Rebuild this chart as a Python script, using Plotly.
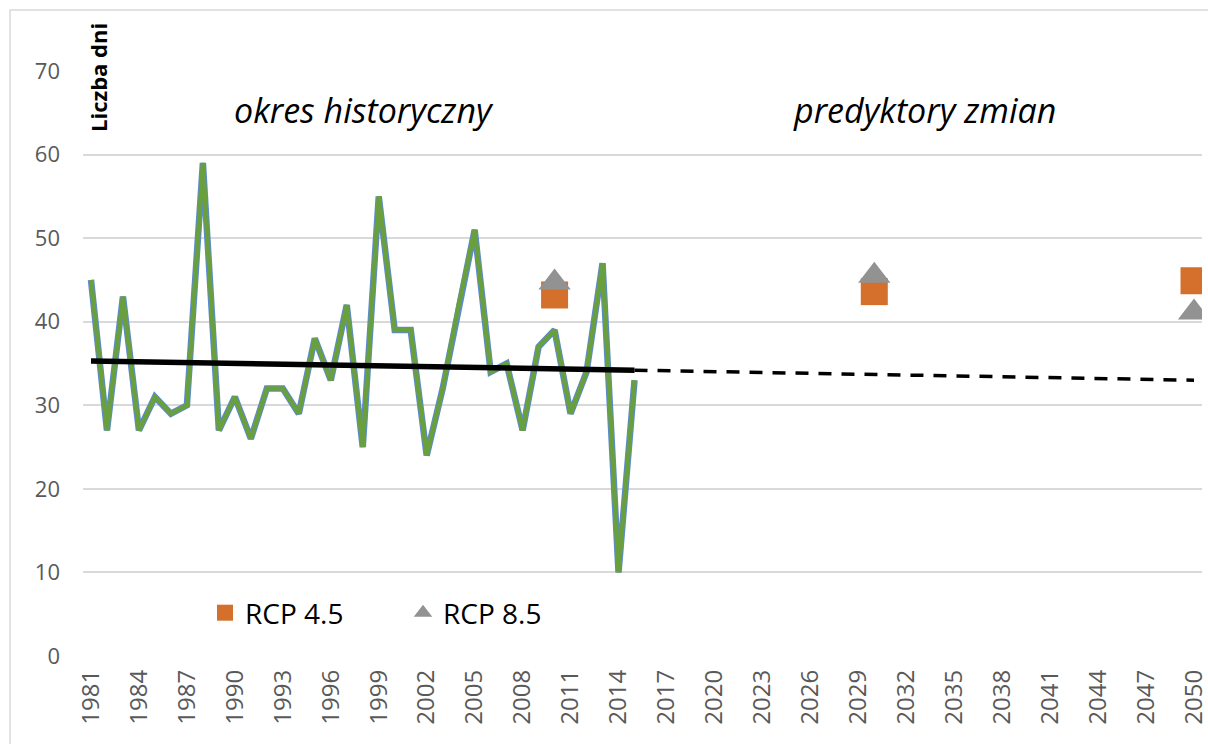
import plotly.graph_objects as go

# ---- data ----
years_hist = list(range(1981, 2016))
days_hist = [45, 27, 43, 27, 31, 29, 30, 59, 27, 31,
             26, 32, 32, 29, 38, 33, 42, 25, 55, 39,
             39, 24, 32, 42, 51, 34, 35, 27, 37, 39,
             29, 34, 47, 10, 33]

trend_hist_years = [1981, 2015]
trend_hist_vals = [35.3, 34.2]
trend_proj_years = [2015, 2050]
trend_proj_vals = [34.2, 33.0]

rcp_years = [2010, 2030, 2050]
rcp45 = [43.2, 43.6, 44.9]
rcp85 = [44.7, 45.5, 41.1]

tick_years = list(range(1981, 2051, 3))
tick_labels = [str(y) for y in tick_years]

FONT = "Open Sans"
GRAY_TXT = "#595959"

fig = go.Figure()

# blue underline of the historical series
fig.add_trace(go.Scatter(x=years_hist, y=days_hist, mode="lines",
                         line=dict(color="#5B8BD0", width=6.5),
                         showlegend=False, hoverinfo="skip"))
fig.add_trace(go.Scatter(x=years_hist, y=days_hist, mode="lines",
                         line=dict(color="#6A9F3E", width=4.5),
                         showlegend=False))
# trend
fig.add_trace(go.Scatter(x=trend_hist_years, y=trend_hist_vals, mode="lines",
                         line=dict(color="black", width=5.5),
                         showlegend=False))
fig.add_trace(go.Scatter(x=trend_proj_years, y=trend_proj_vals, mode="lines",
                         line=dict(color="black", width=3.5, dash="13px,10px"),
                         showlegend=False))
# scenarios
fig.add_trace(go.Scatter(x=rcp_years, y=rcp45, mode="markers", name="RCP 4.5",
                         marker=dict(symbol="square", size=27, color="#D4702C")))
fig.add_trace(go.Scatter(x=rcp_years, y=rcp85, mode="markers", name="RCP 8.5",
                         marker=dict(symbol="triangle-up", size=28, color="#929292")))

L, R, T, B = 83, 6, 71, 88
W, H = 1208, 744
pw = W - L - R
ph = H - T - B

def px_x(x):
    return (x - L) / pw

def px_y(y):
    return (H - B - y) / ph

fig.update_layout(
    width=W, height=H,
    margin=dict(l=L, r=R, t=T, b=B, pad=0, autoexpand=False),
    paper_bgcolor="white", plot_bgcolor="white",
    font=dict(family=FONT, color=GRAY_TXT),
    xaxis=dict(range=[1980.5, 2050.5], tickmode="array", tickvals=tick_years,
               ticktext=tick_labels, tickangle=-90, showgrid=False,
               zeroline=False, showline=False, ticks="", automargin=False,
               tickfont=dict(size=24, color=GRAY_TXT, family=FONT),
               ticklabelstandoff=8, ticklabeloverflow="allow"),
    yaxis=dict(range=[0, 70], dtick=10, tick0=0, showgrid=True,
               gridcolor="#D9D9D9", gridwidth=1.5, zeroline=False,
               showline=False, ticks="", automargin=False,
               tickfont=dict(size=22, color=GRAY_TXT, family=FONT),
               ticklabelstandoff=22),
    legend=dict(orientation="h", x=px_x(205), y=px_y(613),
                xanchor="left", yanchor="middle",
                font=dict(size=28, color="black", family=FONT),
                bgcolor="rgba(0,0,0,0)", entrywidth=153),
    showlegend=True,
)

fig.add_annotation(text="Liczba dni", textangle=-90, xref="paper", yref="paper",
                   x=px_x(98), y=px_y(78), xanchor="center", yanchor="middle",
                   showarrow=False,
                   font=dict(family=FONT, size=22, color="black", weight="bold"))
fig.add_annotation(text="<i>okres historyczny</i>", xref="paper", yref="paper",
                   x=px_x(364), y=px_y(110), xanchor="center", yanchor="middle",
                   showarrow=False, font=dict(family=FONT, size=34, color="black"))
fig.add_annotation(text="<i>predyktory zmian</i>", xref="paper", yref="paper",
                   x=px_x(924), y=px_y(110), xanchor="center", yanchor="middle",
                   showarrow=False, font=dict(family=FONT, size=34, color="black"))

# chart-area border (top and left visible)
fig.add_shape(type="rect", xref="paper", yref="paper",
              x0=px_x(10), x1=px_x(W + 20), y0=px_y(H + 20), y1=px_y(10),
              line=dict(color="#D9D9D9", width=1.5), fillcolor="rgba(0,0,0,0)",
              layer="below")

fig.write_html("out.html", config={"displayModeBar": False},
               post_script="document.body.style.margin='0';document.body.style.overflow='hidden';")
